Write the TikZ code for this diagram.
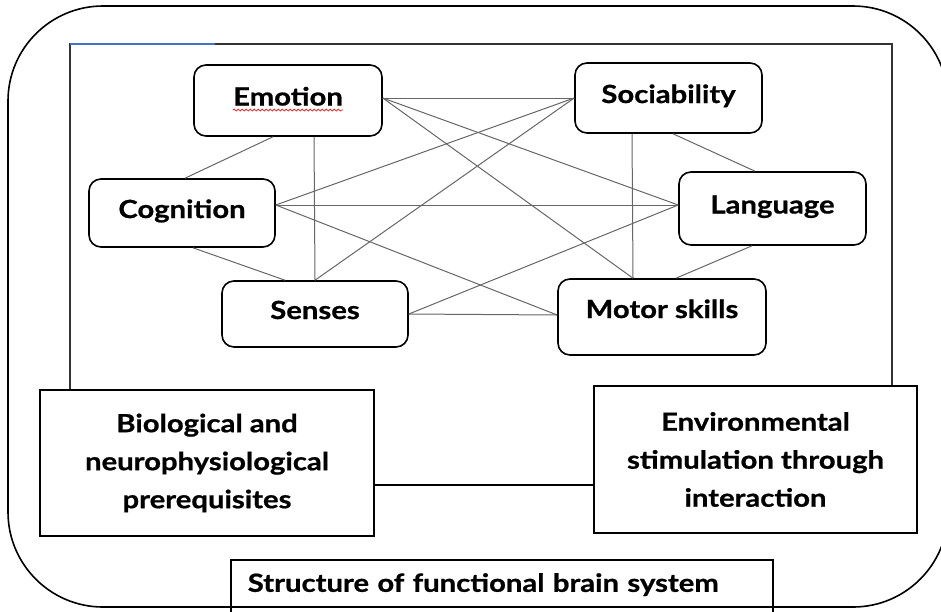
\documentclass[tikz,border=0pt]{standalone}
\usepackage{fontspec}
\setmainfont{Lato}[FakeStretch=1.17, BoldFeatures={FakeBold=0.8}]
\usetikzlibrary{positioning,decorations.pathmorphing}
\definecolor{selblue}{RGB}{68,114,196}
\tikzset{
  skill/.style={draw, rounded corners=12pt, line width=1.6pt, minimum width=187pt, minimum height=70pt,
    inner sep=4pt, text height=19pt, text depth=9pt, font=\fontsize{25}{30}\selectfont\bfseries},
  base/.style={draw, line width=1.6pt, align=center, font=\fontsize{25}{38}\selectfont\bfseries},
  link/.style={draw=black!60, line width=1pt},
  frame/.style={line width=1.6pt, draw=black!80},
}
\begin{document}
\begin{tikzpicture}[x=1pt, y=-1pt]
\useasboundingbox (0,0) rectangle (941,611);
\clip (0,0) rectangle (941,611);
% outer frame and inner frame
\draw[line width=1.6pt, rounded corners=95pt] (8,6) rectangle (948,607);
\draw[frame] (70,390) -- (70,44) -- (892,44) -- (892,386);
\draw[frame, draw=selblue] (70,44) -- (215,44);
% the six functions
\node[skill, minimum width=188pt, minimum height=71pt] (emo) at (288,100.5) {Emotion};
\node[skill] (soc) at (668.5,98) {Sociability};
\node[skill, minimum height=73pt] (lang) at (772.5,208.5) {Language};
\node[skill, minimum width=186pt, minimum height=68pt] (cog) at (182,213) {Cognition};
\node[skill, minimum width=186pt, minimum height=66pt] (sen) at (315,314) {Senses};
\node[skill, minimum width=208pt, minimum height=76pt, text depth=17pt] (mot) at (662,317) {Motor skills};
\draw[red, line width=0.7pt, decorate, decoration={snake, amplitude=1pt, segment length=4pt}]
  ([shift={(-55,9.5)}]emo.center) -- ([shift={(55,9.5)}]emo.center);
% links
\draw[link] ([yshift=2.5pt]emo.east) -- (soc.west);
\draw[link] ([yshift=2.5pt]emo.east) -- ([yshift=3.5pt]lang.west);
\draw[link] ([yshift=2.5pt]emo.east) -- ([xshift=-29pt]mot.north);
\draw[link] ([xshift=-15pt]emo.south) -- ([xshift=3pt]cog.north);
\draw[link] ([xshift=26pt]emo.south) -- (sen.north);
\draw[link] (soc.west) -- ([yshift=8pt]cog.east);
\draw[link] (soc.west) -- (sen.north);
\draw[link] ([xshift=-36.5pt]soc.south) -- ([xshift=-29pt]mot.north);
\draw[link] ([xshift=4.5pt]soc.south) -- ([xshift=-17.5pt]lang.north);
\draw[link] ([yshift=8pt]cog.east) -- ([yshift=3.5pt]lang.west);
\draw[link] ([yshift=8pt]cog.east) -- ([yshift=2pt]mot.west);
\draw[link] ([xshift=11pt]cog.south) -- ([xshift=-30pt]sen.north);
\draw[link] (sen.east) -- ([yshift=3.5pt]lang.west);
\draw[link] (sen.east) -- ([yshift=2pt]mot.west);
\draw[link] ([xshift=-20.5pt]lang.south) -- ([xshift=14pt]mot.north);
% prerequisites
\node[base, minimum width=334pt, minimum height=146pt] (bio) at (207,463) {Biological and\\neurophysiological\\prerequisites};
\node[base, minimum width=323pt, minimum height=147pt] (env) at (755.5,459.5) {Environmental\\stimulation through\\interaction};
\coordinate (j) at ([yshift=-22pt]bio.east);
\draw[line width=1.6pt] (j) -- (j -| env.west);
% caption box
\node[base, anchor=north west, text width=508pt, align=left, inner xsep=17pt, inner ysep=14pt,
  text height=18pt, text depth=10pt] (title) at (230,559) {Structure of functional brain system};
\end{tikzpicture}
\end{document}
